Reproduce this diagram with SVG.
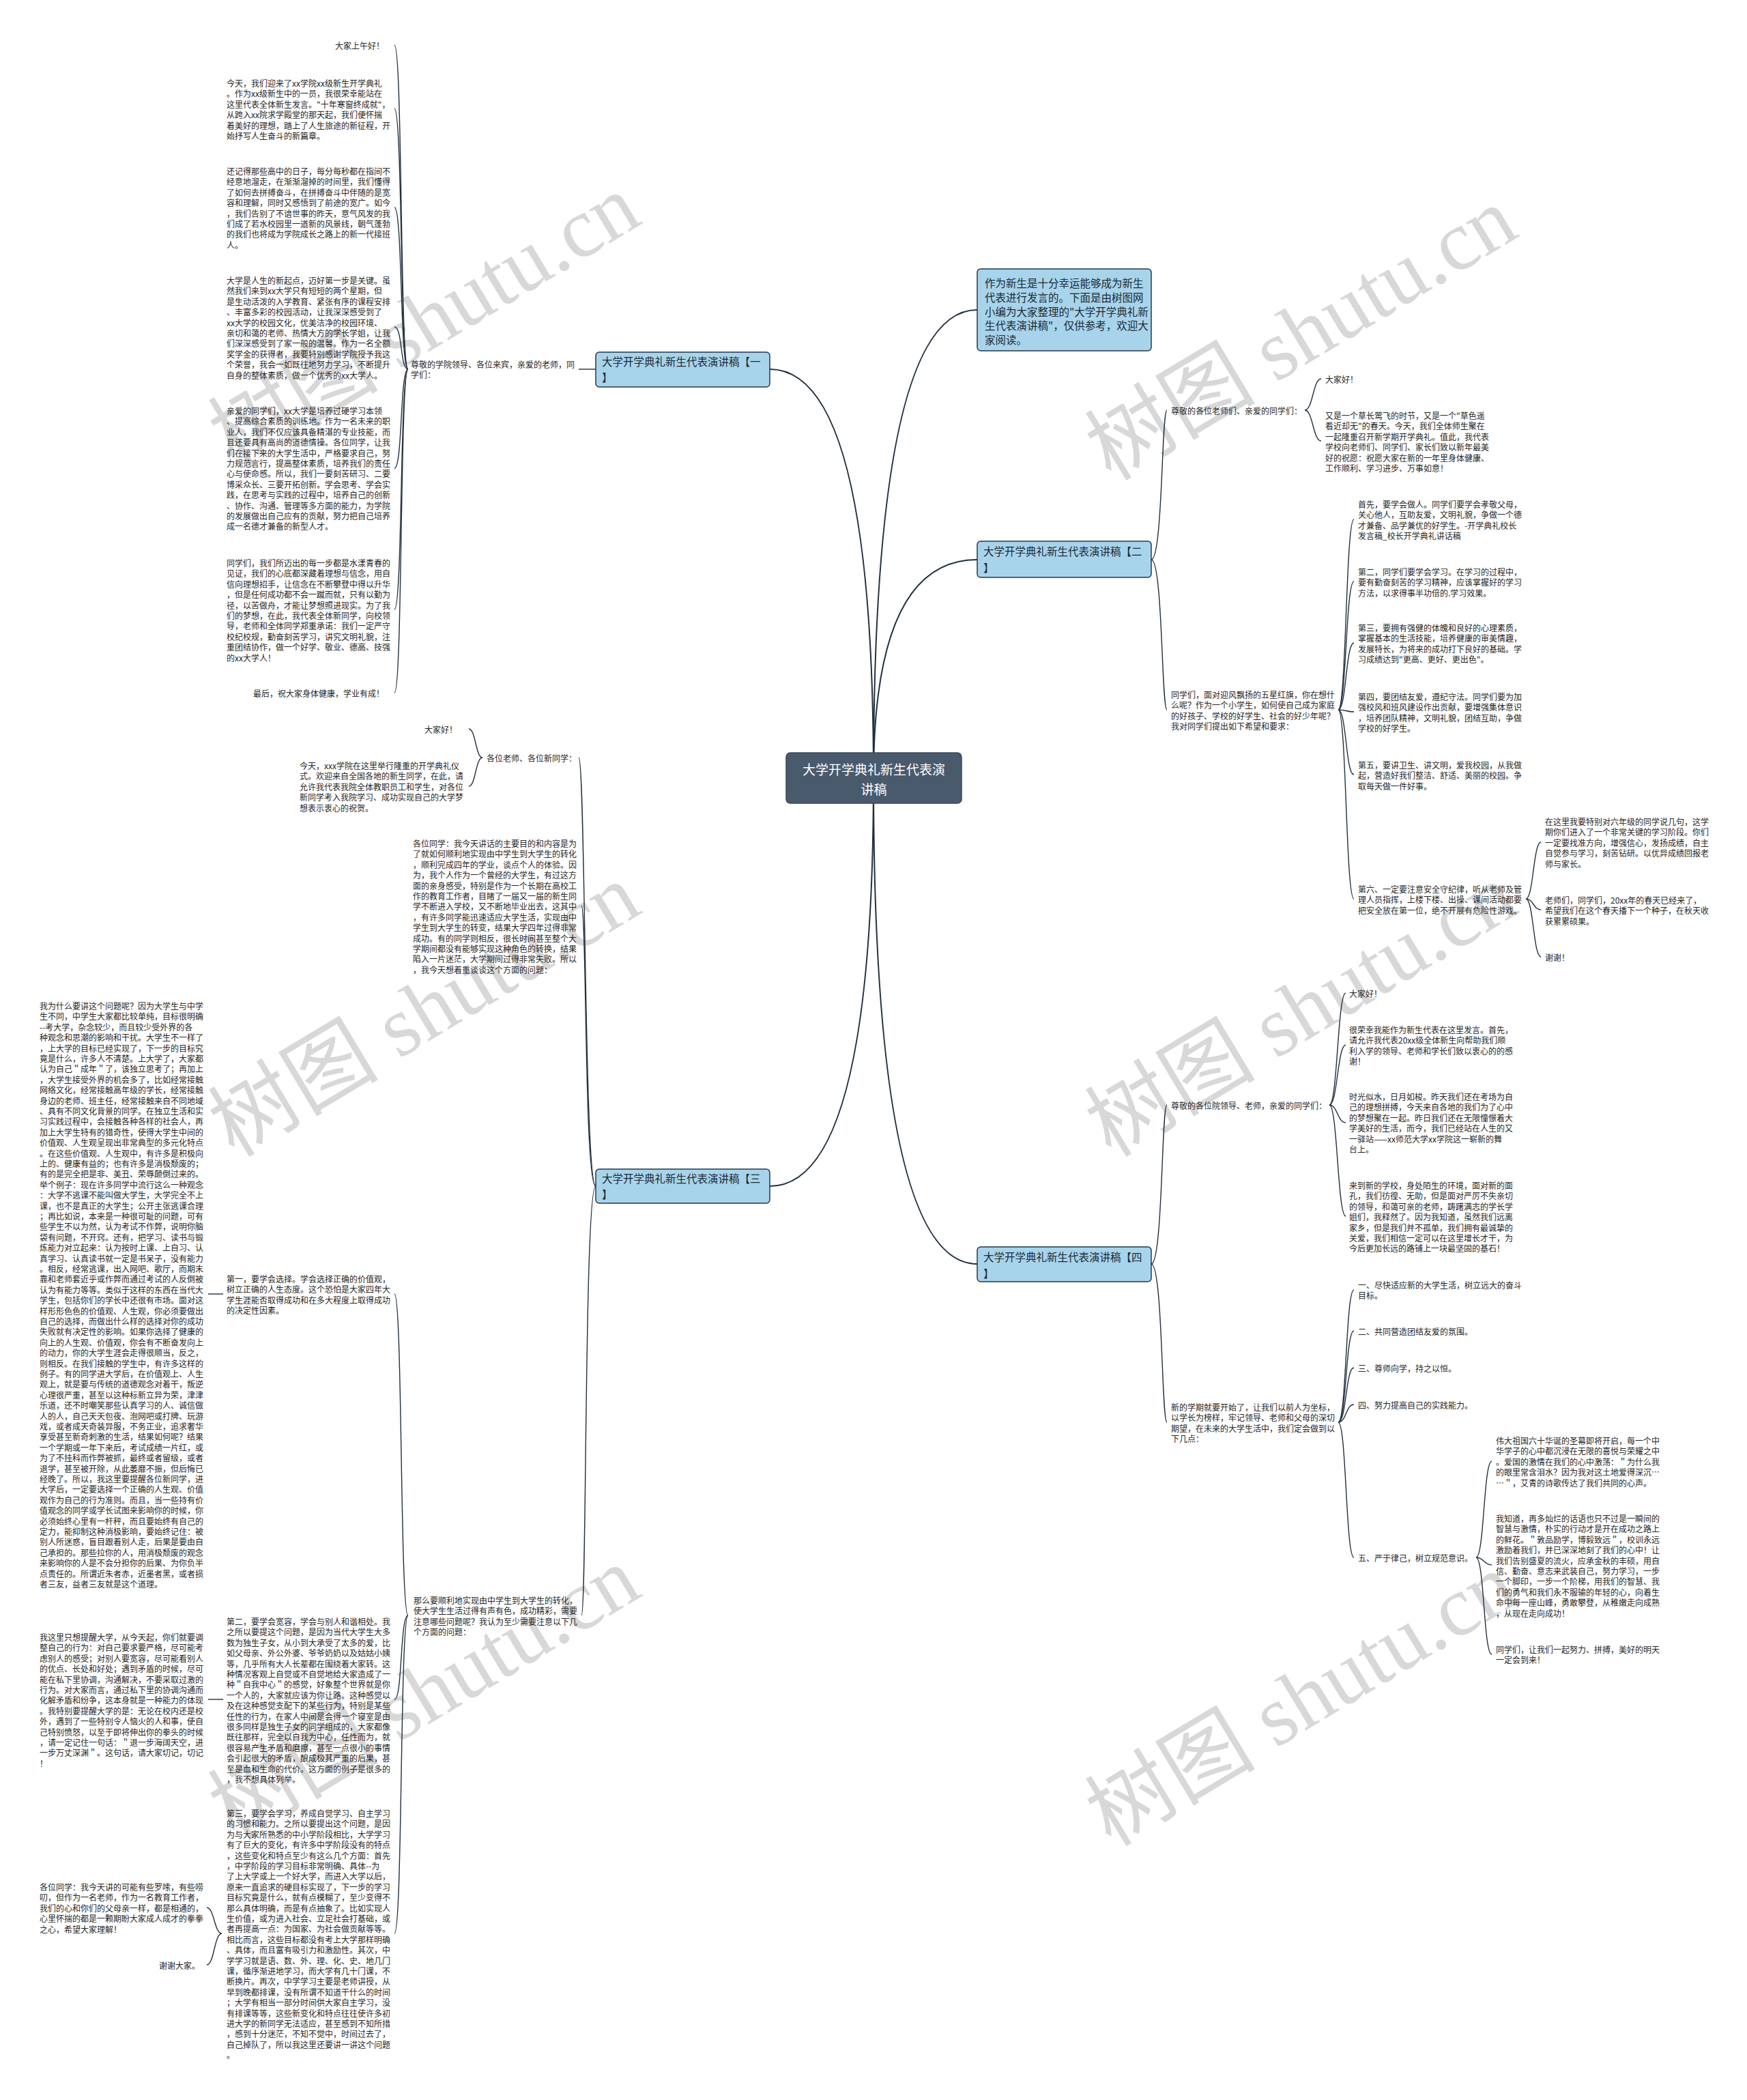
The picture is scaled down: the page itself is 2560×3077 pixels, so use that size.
<svg xmlns="http://www.w3.org/2000/svg" width="2560" height="3077" viewBox="0 0 2560 3077">
<style>
.t{font-family:"Noto Sans CJK SC","Noto Sans",sans-serif;font-size:12px;fill:#262626;dominant-baseline:central}
.e{text-anchor:end}
.b{fill:#a7d4eb;stroke:#26384a;stroke-width:1.5}
.bt{font-family:"Noto Sans CJK SC","Noto Sans",sans-serif;font-size:15.5px;fill:#1c2833;dominant-baseline:central}
.ct{font-family:"Noto Sans CJK SC","Noto Sans",sans-serif;font-size:19px;fill:#ffffff;dominant-baseline:central;text-anchor:middle}
.c{fill:none;stroke:#22303f;stroke-width:2}
.l{fill:none;stroke:#22303f;stroke-width:1.4}
.wm{font-family:"Liberation Serif","Noto Sans CJK SC",serif;font-size:125px;fill:#c8c8c8;opacity:.7}
</style>
<rect width="2560" height="3077" fill="#ffffff"/>
<g id="watermarks">
<text class="wm" transform="translate(343,687) rotate(-31)">树图 shutu.cn</text>
<text class="wm" transform="translate(1628,706) rotate(-31)">树图 shutu.cn</text>
<text class="wm" transform="translate(343,1697) rotate(-31)">树图 shutu.cn</text>
<text class="wm" transform="translate(1628,1697) rotate(-31)">树图 shutu.cn</text>
<text class="wm" transform="translate(343,2698) rotate(-31)">树图 shutu.cn</text>
<text class="wm" transform="translate(1628,2707) rotate(-31)">树图 shutu.cn</text>
</g>
<g id="connectors">
<path class="c" d="M1280,1140 Q1280,541 1128,541"/>
<path class="c" d="M1280,1140 Q1280,1738 1128,1738"/>
<path class="c" d="M1280,1140 Q1280,454 1432,454"/>
<path class="c" d="M1280,1140 Q1280,820 1432,820"/>
<path class="c" d="M1280,1140 Q1280,1852 1432,1852"/>
<path class="l" d="M873,541 L848,541"/>
<path class="l" d="M598,541 C586,541 590,66 578,66"/>
<path class="l" d="M598,541 C586,541 590,159 578,159"/>
<path class="l" d="M598,541 C586,541 590,304 578,304"/>
<path class="l" d="M598,541 C586,541 590,479 578,479"/>
<path class="l" d="M598,541 C586,541 590,686 578,686"/>
<path class="l" d="M598,541 C586,541 590,893 578,893"/>
<path class="l" d="M598,541 C586,541 590,1015 578,1015"/>
<path class="l" d="M873,1738 C856,1738 858,1110 848,1110"/>
<path class="l" d="M873,1738 C856,1738 860,1327 852,1327"/>
<path class="l" d="M873,1738 C856,1738 860,2367 852,2367"/>
<path class="l" d="M707,1110 C697,1110 697,1068 687,1068"/>
<path class="l" d="M707,1110 C697,1110 697,1152 687,1152"/>
<path class="l" d="M598,2367 C586,2367 590,1896 578,1896"/>
<path class="l" d="M598,2367 C586,2367 590,2490 578,2490"/>
<path class="l" d="M598,2367 C586,2367 590,2833 578,2833"/>
<path class="l" d="M327,1896 L305,1896"/>
<path class="l" d="M327,2490 L305,2490"/>
<path class="l" d="M325,2833 C314,2833 314,2795 303,2795"/>
<path class="l" d="M325,2833 C314,2833 314,2879 303,2879"/>
<path class="l" d="M1687,820 C1704,820 1702,601 1710,601"/>
<path class="l" d="M1687,820 C1704,820 1702,1040 1710,1040"/>
<path class="l" d="M1912,601 C1924,601 1924,555 1936,555"/>
<path class="l" d="M1912,601 C1924,601 1924,646 1936,646"/>
<path class="l" d="M1961,1040 C1973,1040 1972,761 1984,761"/>
<path class="l" d="M1961,1040 C1973,1040 1972,852 1984,852"/>
<path class="l" d="M1961,1040 C1973,1040 1972,942 1984,942"/>
<path class="l" d="M1961,1040 C1973,1040 1972,1043 1984,1043"/>
<path class="l" d="M1961,1040 C1973,1040 1972,1135 1984,1135"/>
<path class="l" d="M1961,1040 C1973,1040 1972,1317 1984,1317"/>
<path class="l" d="M2236,1317 C2247,1317 2247,1234 2258,1234"/>
<path class="l" d="M2236,1317 C2247,1317 2247,1333 2258,1333"/>
<path class="l" d="M2236,1317 C2247,1317 2247,1402 2258,1402"/>
<path class="l" d="M1687,1852 C1704,1852 1702,1619 1710,1619"/>
<path class="l" d="M1687,1852 C1704,1852 1702,2084 1710,2084"/>
<path class="l" d="M1948,1619 C1960,1619 1960,1455 1972,1455"/>
<path class="l" d="M1948,1619 C1960,1619 1960,1531 1972,1531"/>
<path class="l" d="M1948,1619 C1960,1619 1960,1645 1972,1645"/>
<path class="l" d="M1948,1619 C1960,1619 1960,1782 1972,1782"/>
<path class="l" d="M1961,2084 C1973,2084 1972,1890 1984,1890"/>
<path class="l" d="M1961,2084 C1973,2084 1972,1950 1984,1950"/>
<path class="l" d="M1961,2084 C1973,2084 1972,2004 1984,2004"/>
<path class="l" d="M1961,2084 C1973,2084 1972,2058 1984,2058"/>
<path class="l" d="M1961,2084 C1973,2084 1972,2282 1984,2282"/>
<path class="l" d="M2163,2282 C2175,2282 2174,2141 2186,2141"/>
<path class="l" d="M2163,2282 C2175,2282 2174,2293 2186,2293"/>
<path class="l" d="M2163,2282 C2175,2282 2174,2424 2186,2424"/>
</g>
<g id="center">
<rect x="1152" y="1103" width="257" height="74" rx="6" fill="#4a5a6d" stroke="#3b4859" stroke-width="1.5"/>
<text class="ct" x="1280.5" y="1126">大学开学典礼新生代表演<tspan x="1280.5" y="1155">讲稿</tspan></text>
</g>
<g id="intro">
<rect class="b" x="1432" y="394" width="255" height="120" rx="5"/>
<text class="bt" x="1443" y="414">作为新生是十分幸运能够成为新生<tspan x="1443" y="435">代表进行发言的。下面是由树图网</tspan><tspan x="1443" y="455.5">小编为大家整理的"大学开学典礼新</tspan><tspan x="1443" y="476">生代表演讲稿"，仅供参考，欢迎大</tspan><tspan x="1443" y="496.5">家阅读。</tspan></text>
</g>
<g id="b1">
<rect class="b" x="873" y="516" width="255" height="51" rx="5"/>
<text class="bt" x="882" y="529">大学开学典礼新生代表演讲稿【一<tspan x="882" y="552">】</tspan></text>
</g>
<g id="b2">
<rect class="b" x="1432" y="793" width="255" height="53" rx="5"/>
<text class="bt" x="1441" y="807">大学开学典礼新生代表演讲稿【二<tspan x="1441" y="831">】</tspan></text>
</g>
<g id="b3">
<rect class="b" x="873" y="1713" width="255" height="50" rx="5"/>
<text class="bt" x="882" y="1726">大学开学典礼新生代表演讲稿【三<tspan x="882" y="1749">】</tspan></text>
</g>
<g id="b4">
<rect class="b" x="1432" y="1827" width="255" height="51" rx="5"/>
<text class="bt" x="1441" y="1841">大学开学典礼新生代表演讲稿【四<tspan x="1441" y="1865">】</tspan></text>
</g>
<g id="b1-parent"><text class="t" x="602" y="533">尊敬的学院领导、各位来宾，亲爱的老师，同<tspan x="602" dy="15.4">学们：</tspan></text></g>
<g id="b1-c1"><text class="t e" x="563" y="66">大家上午好！</text></g>
<g id="b1-c2"><text class="t" x="332" y="121">今天，我们迎来了xx学院xx级新生开学典礼<tspan x="332" dy="15.4">。作为xx级新生中的一员，我很荣幸能站在</tspan><tspan x="332" dy="15.4">这里代表全体新生发言。"十年寒窗终成就"，</tspan><tspan x="332" dy="15.4">从跨入xx院求学殿堂的那天起，我们便怀揣</tspan><tspan x="332" dy="15.4">着美好的理想，踏上了人生旅途的新征程，开</tspan><tspan x="332" dy="15.4">始抒写人生奋斗的新篇章。</tspan></text></g>
<g id="b1-c3"><text class="t" x="332" y="250">还记得那些高中的日子，每分每秒都在指间不<tspan x="332" dy="15.4">经意地溜走，在渐渐溜掉的时间里，我们懂得</tspan><tspan x="332" dy="15.4">了如何去拼搏奋斗，在拼搏奋斗中伴随的是宽</tspan><tspan x="332" dy="15.4">容和理解，同时又感悟到了前途的宽广。如今</tspan><tspan x="332" dy="15.4">，我们告别了不谙世事的昨天，意气风发的我</tspan><tspan x="332" dy="15.4">们成了若水校园里一道新的风景线，朝气蓬勃</tspan><tspan x="332" dy="15.4">的我们也将成为学院成长之路上的新一代接班</tspan><tspan x="332" dy="15.4">人。</tspan></text></g>
<g id="b1-c4"><text class="t" x="332" y="410">大学是人生的新起点，迈好第一步是关键。虽<tspan x="332" dy="15.4">然我们来到xx大学只有短短的两个星期，但</tspan><tspan x="332" dy="15.4">是生动活泼的入学教育、紧张有序的课程安排</tspan><tspan x="332" dy="15.4">、丰富多彩的校园活动，让我深深感受到了</tspan><tspan x="332" dy="15.4">xx大学的校园文化，优美洁净的校园环境、</tspan><tspan x="332" dy="15.4">亲切和蔼的老师、热情大方的学长学姐，让我</tspan><tspan x="332" dy="15.4">们深深感受到了家一般的温馨。作为一名全额</tspan><tspan x="332" dy="15.4">奖学金的获得者，我要特别感谢学院授予我这</tspan><tspan x="332" dy="15.4">个荣誉，我会一如既往地努力学习，不断提升</tspan><tspan x="332" dy="15.4">自身的整体素质，做一个优秀的xx大学人。</tspan></text></g>
<g id="b1-c5"><text class="t" x="332" y="601">亲爱的同学们，xx大学是培养过硬学习本领<tspan x="332" dy="15.4">、提高综合素质的训练地。作为一名未来的职</tspan><tspan x="332" dy="15.4">业人，我们不仅应该具备精湛的专业技能，而</tspan><tspan x="332" dy="15.4">且还要具有高尚的道德情操。各位同学，让我</tspan><tspan x="332" dy="15.4">们在接下来的大学生活中，严格要求自己，努</tspan><tspan x="332" dy="15.4">力规范言行，提高整体素质，培养我们的责任</tspan><tspan x="332" dy="15.4">心与使命感。所以，我们一要刻苦研习、二要</tspan><tspan x="332" dy="15.4">博采众长、三要开拓创新。学会思考、学会实</tspan><tspan x="332" dy="15.4">践，在思考与实践的过程中，培养自己的创新</tspan><tspan x="332" dy="15.4">、协作、沟通、管理等多方面的能力，为学院</tspan><tspan x="332" dy="15.4">的发展做出自己应有的贡献，努力把自己培养</tspan><tspan x="332" dy="15.4">成一名德才兼备的新型人才。</tspan></text></g>
<g id="b1-c6"><text class="t" x="332" y="824">同学们，我们所迈出的每一步都是水漾青春的<tspan x="332" dy="15.4">见证，我们的心底都深藏着理想与信念，用自</tspan><tspan x="332" dy="15.4">信向理想招手，让信念在不断攀登中得以升华</tspan><tspan x="332" dy="15.4">，但是任何成功都不会一蹴而就，只有以勤为</tspan><tspan x="332" dy="15.4">径，以苦做舟，才能让梦想照进现实。为了我</tspan><tspan x="332" dy="15.4">们的梦想，在此，我代表全体新同学，向校领</tspan><tspan x="332" dy="15.4">导，老师和全体同学郑重承诺：我们一定严守</tspan><tspan x="332" dy="15.4">校纪校规，勤奋刻苦学习，讲究文明礼貌，注</tspan><tspan x="332" dy="15.4">重团结协作，做一个好学、敬业、德高、技强</tspan><tspan x="332" dy="15.4">的xx大学人！</tspan></text></g>
<g id="b1-c7"><text class="t e" x="563" y="1015">最后，祝大家身体健康，学业有成！</text></g>
<g id="b3-p1"><text class="t" x="713" y="1110">各位老师、各位新同学：</text></g>
<g id="b3-p1-c1"><text class="t e" x="670" y="1068">大家好！</text></g>
<g id="b3-p1-c2"><text class="t" x="439" y="1121">今天，xxx学院在这里举行隆重的开学典礼仪<tspan x="439" dy="15.4">式。欢迎来自全国各地的新生同学，在此，请</tspan><tspan x="439" dy="15.4">允许我代表我院全体教职员工和学生，对各位</tspan><tspan x="439" dy="15.4">新同学考入我院学习、成功实现自己的大学梦</tspan><tspan x="439" dy="15.4">想表示衷心的祝贺。</tspan></text></g>
<g id="b3-p2"><text class="t" x="605" y="1235">各位同学：我今天讲话的主要目的和内容是为<tspan x="605" dy="15.4">了就如何顺利地实现由中学生到大学生的转化</tspan><tspan x="605" dy="15.4">，顺利完成四年的学业，谈点个人的体验。因</tspan><tspan x="605" dy="15.4">为，我个人作为一个曾经的大学生，有过这方</tspan><tspan x="605" dy="15.4">面的亲身感受，特别是作为一个长期在高校工</tspan><tspan x="605" dy="15.4">作的教育工作者，目睹了一届又一届的新生同</tspan><tspan x="605" dy="15.4">学不断进入学校，又不断地毕业出去，这其中</tspan><tspan x="605" dy="15.4">，有许多同学能迅速适应大学生活，实现由中</tspan><tspan x="605" dy="15.4">学生到大学生的转变，结果大学四年过得非常</tspan><tspan x="605" dy="15.4">成功。有的同学则相反，很长时间甚至整个大</tspan><tspan x="605" dy="15.4">学期间都没有能够实现这种角色的转换，结果</tspan><tspan x="605" dy="15.4">陷入一片迷茫，大学期间过得非常失败。所以</tspan><tspan x="605" dy="15.4">，我今天想着重谈谈这个方面的问题：</tspan></text></g>
<g id="b3-p3"><text class="t" x="606" y="2344">那么要顺利地实现由中学生到大学生的转化，<tspan x="606" dy="15.4">使大学生生活过得有声有色，成功精彩，需要</tspan><tspan x="606" dy="15.4">注意哪些问题呢？我认为至少需要注意以下几</tspan><tspan x="606" dy="15.4">个方面的问题：</tspan></text></g>
<g id="b3-first"><text class="t" x="332" y="1873">第一，要学会选择。学会选择正确的价值观，<tspan x="332" dy="15.4">树立正确的人生态度。这个恐怕是大家四年大</tspan><tspan x="332" dy="15.4">学生涯能否取得成功和在多大程度上取得成功</tspan><tspan x="332" dy="15.4">的决定性因素。</tspan></text></g>
<g id="b3-first-c"><text class="t" x="58" y="1473">我为什么要讲这个问题呢？因为大学生与中学<tspan x="58" dy="15.4">生不同，中学生大家都比较单纯，目标很明确</tspan><tspan x="58" dy="15.4">--考大学，杂念较少，而且较少受外界的各</tspan><tspan x="58" dy="15.4">种观念和思潮的影响和干扰。大学生不一样了</tspan><tspan x="58" dy="15.4">，上大学的目标已经实现了，下一步的目标究</tspan><tspan x="58" dy="15.4">竟是什么，许多人不清楚。上大学了，大家都</tspan><tspan x="58" dy="15.4">认为自己＂成年＂了，该独立思考了；再加上</tspan><tspan x="58" dy="15.4">，大学生接受外界的机会多了，比如经常接触</tspan><tspan x="58" dy="15.4">网络文化，经常接触高年级的学长，经常接触</tspan><tspan x="58" dy="15.4">身边的老师、班主任，经常接触来自不同地域</tspan><tspan x="58" dy="15.4">、具有不同文化背景的同学。在独立生活和实</tspan><tspan x="58" dy="15.4">习实践过程中，会接触各种各样的社会人，再</tspan><tspan x="58" dy="15.4">加上大学生特有的猎奇性，使得大学生中间的</tspan><tspan x="58" dy="15.4">价值观、人生观呈现出非常典型的多元化特点</tspan><tspan x="58" dy="15.4">。在这些价值观、人生观中，有许多是积极向</tspan><tspan x="58" dy="15.4">上的、健康有益的；也有许多是消极颓废的；</tspan><tspan x="58" dy="15.4">有的是完全把是非、美丑、荣辱颠倒过来的。</tspan><tspan x="58" dy="15.4">举个例子：现在许多同学中流行这么一种观念</tspan><tspan x="58" dy="15.4">：大学不逃课不能叫做大学生，大学完全不上</tspan><tspan x="58" dy="15.4">课，也不是真正的大学生；公开主张逃课合理</tspan><tspan x="58" dy="15.4">；再比如说，本来是一种很可耻的问题，可有</tspan><tspan x="58" dy="15.4">些学生不以为然，认为考试不作弊，说明你脑</tspan><tspan x="58" dy="15.4">袋有问题，不开窍。还有，把学习、读书与锻</tspan><tspan x="58" dy="15.4">炼能力对立起来：认为按时上课、上自习、认</tspan><tspan x="58" dy="15.4">真学习、认真读书就一定是书呆子，没有能力</tspan><tspan x="58" dy="15.4">。相反，经常逃课，出入网吧、歌厅，而期末</tspan><tspan x="58" dy="15.4">靠和老师套近乎或作弊而通过考试的人反倒被</tspan><tspan x="58" dy="15.4">认为有能力等等。类似于这样的东西在当代大</tspan><tspan x="58" dy="15.4">学生，包括你们的学长中还很有市场。面对这</tspan><tspan x="58" dy="15.4">样形形色色的价值观、人生观，你必须要做出</tspan><tspan x="58" dy="15.4">自己的选择，而做出什么样的选择对你的成功</tspan><tspan x="58" dy="15.4">失败就有决定性的影响。如果你选择了健康的</tspan><tspan x="58" dy="15.4">向上的人生观、价值观，你会有不断奋发向上</tspan><tspan x="58" dy="15.4">的动力，你的大学生涯会走得很顺当，反之，</tspan><tspan x="58" dy="15.4">则相反。在我们接触的学生中，有许多这样的</tspan><tspan x="58" dy="15.4">例子。有的同学进大学后，在价值观上、人生</tspan><tspan x="58" dy="15.4">观上，就是要与传统的道德观念对着干，叛逆</tspan><tspan x="58" dy="15.4">心理很严重，甚至以这种标新立异为荣，津津</tspan><tspan x="58" dy="15.4">乐道，还不时嘲笑那些认真学习的人、诚信做</tspan><tspan x="58" dy="15.4">人的人，自己天天包夜、泡网吧或打牌、玩游</tspan><tspan x="58" dy="15.4">戏，或者成天奇装异服，不务正业，追求奢华</tspan><tspan x="58" dy="15.4">享受甚至新奇刺激的生活，结果如何呢？结果</tspan><tspan x="58" dy="15.4">一个学期或一年下来后，考试成绩一片红，或</tspan><tspan x="58" dy="15.4">为了不挂科而作弊被抓，最终或者留级，或者</tspan><tspan x="58" dy="15.4">退学，甚至被开除，从此萎靡不振，但后悔已</tspan><tspan x="58" dy="15.4">经晚了。所以，我这里要提醒各位新同学，进</tspan><tspan x="58" dy="15.4">大学后，一定要选择一个正确的人生观、价值</tspan><tspan x="58" dy="15.4">观作为自己的行为准则。而且，当一些持有价</tspan><tspan x="58" dy="15.4">值观念的同学或学长试图来影响你的时候，你</tspan><tspan x="58" dy="15.4">必须始终心里有一杆秤，而且要始终有自己的</tspan><tspan x="58" dy="15.4">定力，能抑制这种消极影响，要始终记住：被</tspan><tspan x="58" dy="15.4">别人所迷惑，盲目跟着别人走，后果是要由自</tspan><tspan x="58" dy="15.4">己承担的。那些拉你的人，用消极颓废的观念</tspan><tspan x="58" dy="15.4">来影响你的人是不会分担你的后果、为你负半</tspan><tspan x="58" dy="15.4">点责任的。所谓近朱者赤，近墨者黑，或者损</tspan><tspan x="58" dy="15.4">者三友，益者三友就是这个道理。</tspan></text></g>
<g id="b3-second"><text class="t" x="332" y="2375">第二，要学会宽容，学会与别人和谐相处。我<tspan x="332" dy="15.4">之所以要提这个问题，是因为当代大学生大多</tspan><tspan x="332" dy="15.4">数为独生子女，从小到大承受了太多的爱，比</tspan><tspan x="332" dy="15.4">如父母亲、外公外婆、爷爷奶奶以及姑姑小姨</tspan><tspan x="332" dy="15.4">等，几乎所有大人长辈都在围绕着大家转。这</tspan><tspan x="332" dy="15.4">种情况客观上自觉或不自觉地给大家造成了一</tspan><tspan x="332" dy="15.4">种＂自我中心＂的感觉，好象整个世界就是你</tspan><tspan x="332" dy="15.4">一个人的，大家就应该为你让路。这种感觉以</tspan><tspan x="332" dy="15.4">及在这种感觉支配下的某些行为，特别是某些</tspan><tspan x="332" dy="15.4">任性的行为，在家人中间是会得一个寝室是由</tspan><tspan x="332" dy="15.4">很多同样是独生子女的同学组成的，大家都像</tspan><tspan x="332" dy="15.4">既往那样，完全以自我为中心，任性而为，就</tspan><tspan x="332" dy="15.4">很容易产生矛盾和磨擦，甚至一点很小的事情</tspan><tspan x="332" dy="15.4">会引起很大的矛盾，酿成极其严重的后果，甚</tspan><tspan x="332" dy="15.4">至是血和生命的代价。这方面的例子是很多的</tspan><tspan x="332" dy="15.4">，我不想具体列举。</tspan></text></g>
<g id="b3-second-c"><text class="t" x="58" y="2398">我这里只想提醒大学，从今天起，你们就要调<tspan x="58" dy="15.4">整自己的行为：对自己要求要严格，尽可能考</tspan><tspan x="58" dy="15.4">虑别人的感受；对别人要宽容，尽可能看别人</tspan><tspan x="58" dy="15.4">的优点、长处和好处；遇到矛盾的时候，尽可</tspan><tspan x="58" dy="15.4">能在私下里协调，沟通解决，不要采取过激的</tspan><tspan x="58" dy="15.4">行为。对大家而言，通过私下里的协调沟通而</tspan><tspan x="58" dy="15.4">化解矛盾和纷争，这本身就是一种能力的体现</tspan><tspan x="58" dy="15.4">。我特别要提醒大学的是：无论在校内还是校</tspan><tspan x="58" dy="15.4">外，遇到了一些特别令人恼火的人和事，使自</tspan><tspan x="58" dy="15.4">己特别愤怒，以至于即将伸出你的拳头的时候</tspan><tspan x="58" dy="15.4">，请一定记住一句话：＂退一步海阔天空，进</tspan><tspan x="58" dy="15.4">一步万丈深渊＂。这句话，请大家切记，切记</tspan><tspan x="58" dy="15.4">！</tspan></text></g>
<g id="b3-third"><text class="t" x="332" y="2656">第三，要学会学习，养成自觉学习、自主学习<tspan x="332" dy="15.4">的习惯和能力。之所以要提出这个问题，是因</tspan><tspan x="332" dy="15.4">为与大家所熟悉的中小学阶段相比，大学学习</tspan><tspan x="332" dy="15.4">有了巨大的变化，有许多中学阶段没有的特点</tspan><tspan x="332" dy="15.4">，这些变化和特点至少有这么几个方面：首先</tspan><tspan x="332" dy="15.4">，中学阶段的学习目标非常明确、具体--为</tspan><tspan x="332" dy="15.4">了上大学或上一个好大学，而进入大学以后，</tspan><tspan x="332" dy="15.4">原来一直追求的硬目标实现了，下一步的学习</tspan><tspan x="332" dy="15.4">目标究竟是什么，就有点模糊了，至少变得不</tspan><tspan x="332" dy="15.4">那么具体明确，而是有点抽象了。比如实现人</tspan><tspan x="332" dy="15.4">生价值，或为进入社会、立足社会打基础，或</tspan><tspan x="332" dy="15.4">者再提高一点：为国家、为社会做贡献等等。</tspan><tspan x="332" dy="15.4">相比而言，这些目标都没有考上大学那样明确</tspan><tspan x="332" dy="15.4">、具体，而且富有吸引力和激励性。其次，中</tspan><tspan x="332" dy="15.4">学学习就是语、数、外、理、化、史、地几门</tspan><tspan x="332" dy="15.4">课，循序渐进地学习，而大学有几十门课，不</tspan><tspan x="332" dy="15.4">断换片。再次，中学学习主要是老师讲授，从</tspan><tspan x="332" dy="15.4">早到晚都排课，没有所谓不知道干什么的时间</tspan><tspan x="332" dy="15.4">；大学有相当一部分时间供大家自主学习，没</tspan><tspan x="332" dy="15.4">有排课等等，这些新变化和特点往往使许多初</tspan><tspan x="332" dy="15.4">进大学的新同学无法适应，甚至感到不知所措</tspan><tspan x="332" dy="15.4">，感到十分迷茫，不知不觉中，时间过去了，</tspan><tspan x="332" dy="15.4">自己掉队了，所以我这里还要讲一讲这个问题</tspan><tspan x="332" dy="15.4">。</tspan></text></g>
<g id="b3-third-c1"><text class="t" x="58" y="2764">各位同学：我今天讲的可能有些罗嗦，有些唠<tspan x="58" dy="15.4">叨，但作为一名老师，作为一名教育工作者，</tspan><tspan x="58" dy="15.4">我们的心和你们的父母亲一样，都是相通的，</tspan><tspan x="58" dy="15.4">心里怀揣的都是一颗期盼大家成人成才的拳拳</tspan><tspan x="58" dy="15.4">之心，希望大家理解！</tspan></text></g>
<g id="b3-third-c2"><text class="t e" x="293" y="2879">谢谢大家。</text></g>
<g id="b2-p1"><text class="t" x="1716" y="601">尊敬的各位老师们、亲爱的同学们：</text></g>
<g id="b2-p1-c1"><text class="t" x="1942" y="555">大家好！</text></g>
<g id="b2-p1-c2"><text class="t" x="1942" y="608">又是一个草长莺飞的时节，又是一个"草色遥<tspan x="1942" dy="15.4">看近却无"的春天。今天，我们全体师生聚在</tspan><tspan x="1942" dy="15.4">一起隆重召开新学期开学典礼。值此，我代表</tspan><tspan x="1942" dy="15.4">学校向老师们、同学们、家长们致以新年最美</tspan><tspan x="1942" dy="15.4">好的祝愿：祝愿大家在新的一年里身体健康、</tspan><tspan x="1942" dy="15.4">工作顺利、学习进步、万事如意！</tspan></text></g>
<g id="b2-p2"><text class="t" x="1716" y="1017">同学们，面对迎风飘扬的五星红旗，你在想什<tspan x="1716" dy="15.4">么呢？作为一个小学生，如何使自己成为家庭</tspan><tspan x="1716" dy="15.4">的好孩子、学校的好学生、社会的好少年呢？</tspan><tspan x="1716" dy="15.4">我对同学们提出如下希望和要求：</tspan></text></g>
<g id="b2-s1"><text class="t" x="1990" y="738">首先，要学会做人。同学们要学会孝敬父母，<tspan x="1990" dy="15.4">关心他人，互助友爱，文明礼貌，争做一个德</tspan><tspan x="1990" dy="15.4">才兼备、品学兼优的好学生。-开学典礼校长</tspan><tspan x="1990" dy="15.4">发言稿_校长开学典礼讲话稿</tspan></text></g>
<g id="b2-s2"><text class="t" x="1990" y="837">第二，同学们要学会学习。在学习的过程中，<tspan x="1990" dy="15.4">要有勤奋刻苦的学习精神，应该掌握好的学习</tspan><tspan x="1990" dy="15.4">方法，以求得事半功倍的.学习效果。</tspan></text></g>
<g id="b2-s3"><text class="t" x="1990" y="919">第三，要拥有强健的体魄和良好的心理素质，<tspan x="1990" dy="15.4">掌握基本的生活技能，培养健康的审美情趣，</tspan><tspan x="1990" dy="15.4">发展特长，为将来的成功打下良好的基础。学</tspan><tspan x="1990" dy="15.4">习成绩达到"更高、更好、更出色"。</tspan></text></g>
<g id="b2-s4"><text class="t" x="1990" y="1020">第四，要团结友爱，遵纪守法。同学们要为加<tspan x="1990" dy="15.4">强校风和班风建设作出贡献，要增强集体意识</tspan><tspan x="1990" dy="15.4">，培养团队精神，文明礼貌，团结互助，争做</tspan><tspan x="1990" dy="15.4">学校的好学生。</tspan></text></g>
<g id="b2-s5"><text class="t" x="1990" y="1120">第五，要讲卫生、讲文明，爱我校园，从我做<tspan x="1990" dy="15.4">起，营造好我们整洁、舒适、美丽的校园。争</tspan><tspan x="1990" dy="15.4">取每天做一件好事。</tspan></text></g>
<g id="b2-s6"><text class="t" x="1990" y="1302">第六、一定要注意安全守纪律，听从老师及管<tspan x="1990" dy="15.4">理人员指挥，上楼下楼、出操、课间活动都要</tspan><tspan x="1990" dy="15.4">把安全放在第一位，绝不开展有危险性游戏。</tspan></text></g>
<g id="b2-s6-c1"><text class="t" x="2264" y="1203">在这里我要特别对六年级的同学说几句，这学<tspan x="2264" dy="15.4">期你们进入了一个非常关键的学习阶段。你们</tspan><tspan x="2264" dy="15.4">一定要找准方向，增强信心，发扬成绩，自主</tspan><tspan x="2264" dy="15.4">自觉参与学习，刻苦钻研。以优异成绩回报老</tspan><tspan x="2264" dy="15.4">师与家长。</tspan></text></g>
<g id="b2-s6-c2"><text class="t" x="2264" y="1318">老师们，同学们，20xx年的春天已经来了，<tspan x="2264" dy="15.4">希望我们在这个春天播下一个种子，在秋天收</tspan><tspan x="2264" dy="15.4">获累累硕果。</tspan></text></g>
<g id="b2-s6-c3"><text class="t" x="2264" y="1402">谢谢！</text></g>
<g id="b4-p1"><text class="t" x="1716" y="1619">尊敬的各位院领导、老师，亲爱的同学们：</text></g>
<g id="b4-p1-c1"><text class="t" x="1977" y="1455">大家好！</text></g>
<g id="b4-p1-c2"><text class="t" x="1977" y="1508">很荣幸我能作为新生代表在这里发言。首先，<tspan x="1977" dy="15.4">请允许我代表20xx级全体新生向帮助我们顺</tspan><tspan x="1977" dy="15.4">利入学的领导、老师和学长们致以衷心的的感</tspan><tspan x="1977" dy="15.4">谢！</tspan></text></g>
<g id="b4-p1-c3"><text class="t" x="1977" y="1606">时光似水，日月如梭。昨天我们还在考场为自<tspan x="1977" dy="15.4">己的理想拼搏，今天来自各地的我们为了心中</tspan><tspan x="1977" dy="15.4">的梦想聚在一起。昨日我们还在无限憧憬着大</tspan><tspan x="1977" dy="15.4">学美好的生活，而今，我们已经站在人生的又</tspan><tspan x="1977" dy="15.4">一驿站——xx师范大学xx学院这一崭新的舞</tspan><tspan x="1977" dy="15.4">台上。</tspan></text></g>
<g id="b4-p1-c4"><text class="t" x="1977" y="1736">来到新的学校，身处陌生的环境，面对新的面<tspan x="1977" dy="15.4">孔，我们彷徨、无助，但是面对严厉不失亲切</tspan><tspan x="1977" dy="15.4">的领导，和蔼可亲的老师，踌躇满志的学长学</tspan><tspan x="1977" dy="15.4">姐们，我释然了。因为我知道，虽然我们远离</tspan><tspan x="1977" dy="15.4">家乡，但是我们并不孤单，我们拥有最诚挚的</tspan><tspan x="1977" dy="15.4">关爱，我们相信一定可以在这里增长才干，为</tspan><tspan x="1977" dy="15.4">今后更加长远的路铺上一块最坚固的基石！</tspan></text></g>
<g id="b4-p2"><text class="t" x="1716" y="2061">新的学期就要开始了，让我们以前人为坐标，<tspan x="1716" dy="15.4">以学长为榜样，牢记领导、老师和父母的深切</tspan><tspan x="1716" dy="15.4">期望，在未来的大学生活中，我们定会做到以</tspan><tspan x="1716" dy="15.4">下几点：</tspan></text></g>
<g id="b4-s1"><text class="t" x="1990" y="1882">一、尽快适应新的大学生活，树立远大的奋斗<tspan x="1990" dy="15.4">目标。</tspan></text></g>
<g id="b4-s2"><text class="t" x="1990" y="1950">二、共同营造团结友爱的氛围。</text></g>
<g id="b4-s3"><text class="t" x="1990" y="2004">三、尊师向学，持之以恒。</text></g>
<g id="b4-s4"><text class="t" x="1990" y="2058">四、努力提高自己的实践能力。</text></g>
<g id="b4-s5"><text class="t" x="1990" y="2282">五、严于律己，树立规范意识。</text></g>
<g id="b4-s5-c1"><text class="t" x="2192" y="2110">伟大祖国六十华诞的圣幕即将开启，每一个中<tspan x="2192" dy="15.4">华学子的心中都沉浸在无限的喜悦与荣耀之中</tspan><tspan x="2192" dy="15.4">。爱国的激情在我们的心中激荡：＂为什么我</tspan><tspan x="2192" dy="15.4">的眼里常含泪水？因为我对这土地爱得深沉…</tspan><tspan x="2192" dy="15.4">…＂，艾青的诗歌传达了我们共同的心声。</tspan></text></g>
<g id="b4-s5-c2"><text class="t" x="2192" y="2224">我知道，再多灿烂的话语也只不过是一瞬间的<tspan x="2192" dy="15.4">智慧与激情，朴实的行动才是开在成功之路上</tspan><tspan x="2192" dy="15.4">的鲜花。＂敦品励学，博毅致远＂，校训永远</tspan><tspan x="2192" dy="15.4">激励着我们，并已深深地刻了我们的心中！让</tspan><tspan x="2192" dy="15.4">我们告别盛夏的流火，应承金秋的丰硕，用自</tspan><tspan x="2192" dy="15.4">信、勤奋、意志来武装自己，努力学习，一步</tspan><tspan x="2192" dy="15.4">一个脚印，一步一个阶梯，用我们的智慧、我</tspan><tspan x="2192" dy="15.4">们的勇气和我们永不服输的年轻的心，向着生</tspan><tspan x="2192" dy="15.4">命中每一座山峰，勇敢攀登，从稚嫩走向成熟</tspan><tspan x="2192" dy="15.4">，从现在走向成功！</tspan></text></g>
<g id="b4-s5-c3"><text class="t" x="2192" y="2416">同学们，让我们一起努力、拼搏，美好的明天<tspan x="2192" dy="15.4">一定会到来！</tspan></text></g>
</svg>
